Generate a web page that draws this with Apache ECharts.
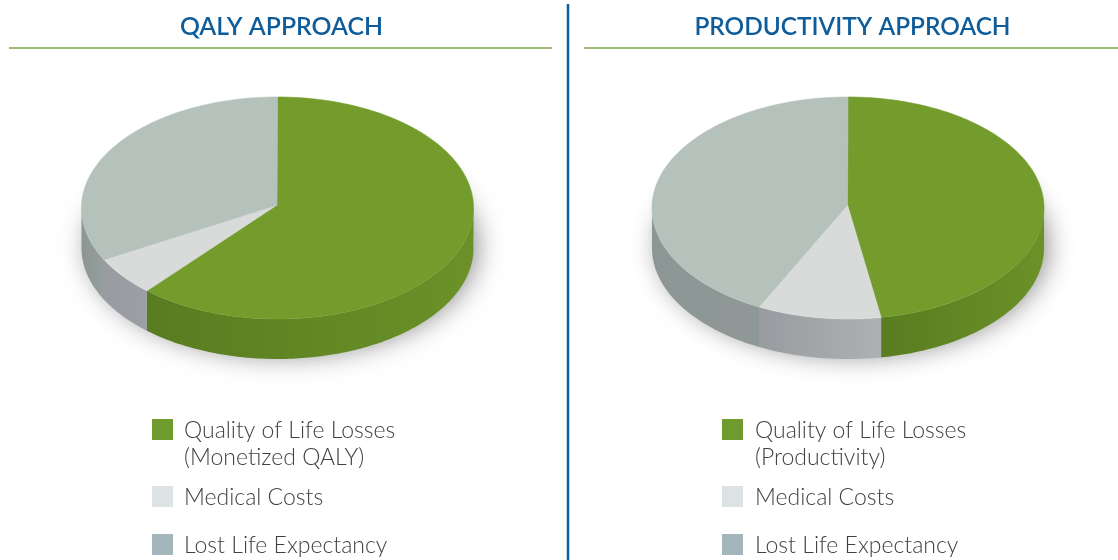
<!DOCTYPE html>
<html>
<head>
    <meta charset="utf-8">
    <title>QALY and productivity approach</title>
    <script src="https://cdn.jsdelivr.net/npm/echarts@6/dist/echarts.min.js"></script>
    <style>
        html, body { margin: 0; padding: 0; background: #fff; }
        #main { width: 1118px; height: 560px; }
    </style>
</head>
<body>
<div id="main"></div>
<script type="text/javascript">
    // values, share of each pie, clockwise from 12 o'clock
    var sliceNames = ['Quality of Life Losses', 'Medical Costs', 'Lost Life Expectancy'];
    var qalyValues = [61.6, 5.7, 32.7];
    var productivityValues = [47.3, 10.2, 42.5];

    var titles = ['QALY APPROACH', 'PRODUCTIVITY APPROACH'];
    var qalyLegend = ['Quality of Life Losses\n(Monetized QALY)', 'Medical Costs', 'Lost Life Expectancy'];
    var productivityLegend = ['Quality of Life Losses\n(Productivity)', 'Medical Costs', 'Lost Life Expectancy'];

    var topColors = ['#739c2d', '#d8dbda', '#b5c1bb'];
    var wallLeft = ['#587c20', '#989ca0', '#8c9695'];
    var qalyWallRight = ['#6b9128', '#9ca0a4', '#959e9c'];
    var productivityWallRight = ['#6b9128', '#adb1b3', '#8f9897'];
    var legendColors = ['#6f9a2e', '#dde3e5', '#a3b6bb'];

    var rx = 196, ry = 111, depth = 40, centerY = 208, apexY = 205;
    var blue = '#0f5c9a', lineGreen = '#9dbb72', textColor = '#414143';

    var myChart = echarts.init(document.getElementById('main'));

    // t in degrees, clockwise from the top of the ellipse
    function rim(cx, t, dy) {
        var r = t * Math.PI / 180;
        return [cx + rx * Math.sin(r), centerY + dy - ry * Math.cos(r)];
    }

    function pieSeries(values, cx, name, wallRight) {
        var total = values.reduce(function (a, b) { return a + b; }, 0);
        return {
            type: 'custom',
            name: name,
            coordinateSystem: 'none',
            silent: true,
            data: values.map(function (v, i) { return { name: sliceNames[i], value: [v] }; }),
            renderItem: function (params, api) {
                var i = params.dataIndex;
                var before = 0;
                for (var k = 0; k < i; k++) before += values[k];
                var start = before / total * 360;
                var end = (before + api.value(0)) / total * 360;
                var children = [];

                if (i == 0) {
                    // soft ground shadow, sits under everything
                    children.push({
                        type: 'ellipse',
                        shape: { cx: cx + 3, cy: centerY + depth - 5, rx: rx - 3, ry: ry - 3 },
                        style: { fill: '#fff', shadowBlur: 28, shadowColor: 'rgba(40,40,40,0.6)', shadowOffsetX: 2, shadowOffsetY: 3 }
                    });
                }

                // side wall, only the front half of the rim shows
                var a = Math.max(start, 90), b = Math.min(end, 270);
                if (b > a) {
                    var wall = [], t;
                    for (t = a; t < b; t += 1) wall.push(rim(cx, t, 0));
                    wall.push(rim(cx, b, 0));
                    wall.push(rim(cx, b, depth));
                    for (t = b; t > a; t -= 1) wall.push(rim(cx, t, depth));
                    wall.push(rim(cx, a, depth));
                    children.push({
                        type: 'polygon',
                        shape: { points: wall },
                        style: {
                            fill: new echarts.graphic.LinearGradient(0, 0, 1, 0, [
                                { offset: 0, color: wallLeft[i] },
                                { offset: 1, color: wallRight[i] }
                            ])
                        }
                    });
                }

                // top face
                var face = [[cx - 0.5, apexY]];
                for (var s = start; s < end; s += 1) face.push(rim(cx, s, 0));
                face.push(rim(cx, end, 0));
                children.push({
                    type: 'polygon',
                    shape: { points: face },
                    z2: 10,
                    style: { fill: topColors[i], stroke: topColors[i], lineWidth: 0.6 }
                });
                return { type: 'group', children: children };
            }
        };
    }

    function legendElements(labels, iconX, textX) {
        var rows = [430, 497, 545];
        var out = [];
        labels.forEach(function (label, i) {
            out.push({
                type: 'rect',
                shape: { x: iconX, y: rows[i] - 11, width: 21, height: 21 },
                style: { fill: legendColors[i] }
            });
            out.push({
                type: 'text',
                x: textX,
                y: rows[i] - 13,
                style: {
                    text: label,
                    fill: textColor,
                    font: '300 23px Lato',
                    lineHeight: 27
                }
            });
        });
        return out;
    }

    function hLine(x1, x2, y, color, w) {
        return { type: 'line', shape: { x1: x1, y1: y, x2: x2, y2: y }, style: { stroke: color, lineWidth: w } };
    }

    var option = {
        backgroundColor: '#fff',
        animation: false,
        title: [
            { text: titles[0], left: 281.5, top: 15, padding: 0, textAlign: 'center',
              textStyle: { color: blue, fontFamily: 'Lato', fontWeight: 600, fontSize: 24.8 } },
            { text: titles[1], left: 852.5, top: 15, padding: 0, textAlign: 'center',
              textStyle: { color: blue, fontFamily: 'Lato', fontWeight: 600, fontSize: 24.4 } }
        ],
        graphic: {
            elements: [
                hLine(9, 552, 48, lineGreen, 2),
                hLine(584, 1118, 48, lineGreen, 2),
                { type: 'line', shape: { x1: 568, y1: 4, x2: 568, y2: 560 }, style: { stroke: blue, lineWidth: 2.5 } }
            ].concat(legendElements(qalyLegend, 152, 184))
             .concat(legendElements(productivityLegend, 722, 755))
        },
        series: [
            pieSeries(qalyValues, 277.5, titles[0], qalyWallRight),
            pieSeries(productivityValues, 848, titles[1], productivityWallRight)
        ]
    };
    myChart.setOption(option);
</script>
</body>
</html>
